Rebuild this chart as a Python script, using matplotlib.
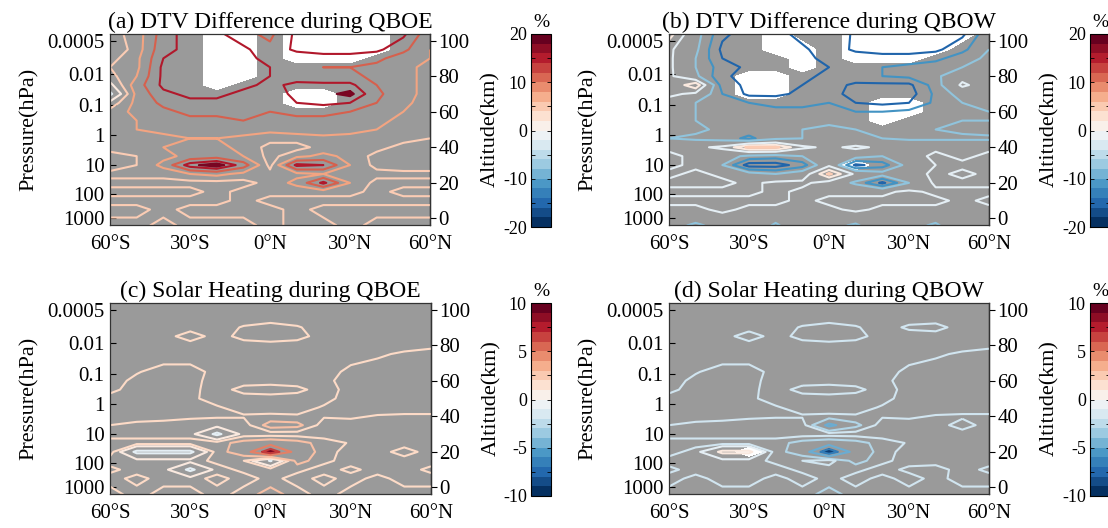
import numpy as np
import matplotlib
matplotlib.use("Agg")
import matplotlib.pyplot as plt
from matplotlib.colors import Normalize
import matplotlib.cm as cm

plt.rcParams['font.family'] = ['Liberation Serif', 'DejaVu Serif']
plt.rcParams['axes.unicode_minus'] = False

# grid the fields are read on (rows top -> bottom)
LAT = [-60, -50, -40, -30, -20, -10, 0, 10, 20, 30, 40, 50, 60]
ALT = [104, 95, 90, 85, 80, 75, 70, 65, 60, 55, 50, 45, 40, 35, 30, 25, 20, 15, 10, 5, -4]

LAT_TICKS = [-60, -30, 0, 30, 60]
LAT_LABELS = ['60°S', '30°S', '0°N', '30°N', '60°N']
PRESSURE_LABELS = ['1000', '100', '10', '1', '0.1', '0.01', '0.0005']
PRESSURE_ALT = [0, 14, 30, 47, 64, 81, 100]
ALT_TICKS = [0, 20, 40, 60, 80, 100]

DTV_LEVELS = [-16, -12, -8, -2, 2, 5, 8, 12, 16, 19]
SOLAR_LEVELS = [-7, -5, -3, -2, -1, 1, 2, 3, 5, 7]

# (a) DTV difference, QBOE (%)
DTV_QBOE = [
    [4, 6, 14, 18, 17, 13, 11, 17, 18, 18, 17, 17, 9],
    [3, 6, 15, 17, 18, 17, 13, 17, 18, 18, 17, 13, 8],
    [4, 7, 16, 17, 18, 17, 15, 13, 14, 14, 13, 10, 8],
    [5, 7, 17, 18, 18, 18, 16, 13, 12, 12, 11, 9, 7],
    [4, 8, 17, 18, 18, 17, 16, 14, 13, 13, 11, 9, 7],
    [1, 10, 17, 18, 18, 17, 15, 17, 17, 17, 12, 9, 7],
    [-3, 9, 15, 17, 17, 15, 14, 17, 18, 20, 13, 9, 7],
    [3, 9, 13, 15, 15, 14, 13, 16, 17, 16, 12, 9, 6],
    [6, 9, 11, 13, 13, 13, 12, 13, 13, 12, 11, 8, 6],
    [7, 8, 10, 11, 11, 12, 11, 11, 11, 10, 9, 7, 6],
    [7, 8, 9, 9, 10, 10, 9, 10, 10, 9, 8, 7, 6],
    [6, 7, 7, 8, 8, 7, 6, 6, 7, 7, 7, 6, 5],
    [6, 7, 8, 9, 9, 7, 4, 4, 6, 6, 6, 4, 4],
    [4, 5, 7, 9, 10, 8, 4, 7, 9, 7, 4, 4, 3],
    [3, 5, 9, 18, 21, 14, 4, 17, 16, 8, 4, 3, 3],
    [6, 6, 6, 8, 9, 7, 6, 7, 8, 6, 6, 6, 6],
    [4, 4, 4, 4, 4, 4, 6, 9, 17, 8, 4, 4, 4],
    [6, 6, 6, 6, 4, 6, 6, 6, 6, 6, 4, 6, 6],
    [4, 4, 4, 4, 4, 6, 4, 4, 4, 4, 4, 4, 4],
    [6, 6, 4, 6, 6, 6, 6, 4, 6, 6, 6, 6, 6],
    [4, 4, 6, 4, 4, 4, 6, 4, 4, 6, 4, 4, 4],
]

# (b) DTV difference, QBOW (%)
DTV_QBOW = [
    [4, -6, -15, -18, -18, -14, -12, -17, -18, -18, -18, -17, -9],
    [-1, -7, -17, -18, -18, -17, -13, -17, -18, -18, -17, -13, -8],
    [-1, -8, -16, -17, -18, -17, -15, -13, -14, -14, -13, -10, -7],
    [-1, -8, -14, -17, -17, -18, -16, -13, -12, -11, -10, -8, -5],
    [-1, -7, -15, -18, -18, -17, -15, -13, -12, -11, -9, -4, -5],
    [-2, 5, -14, -17, -18, -16, -14, -17, -17, -17, -10, -1, -5],
    [-1, -3, -12, -17, -17, -15, -14, -18, -18, -18, -11, -6, -6],
    [-4, -8, -10, -12, -13, -13, -12, -16, -17, -16, -11, -8, -7],
    [-7, -8, -9, -10, -11, -11, -10, -12, -12, -11, -10, -9, -8],
    [-7, -8, -9, -9, -10, -10, -9, -10, -10, -9, -9, -8, -8],
    [-6, -7, -9, -10, -9, -8, -7, -8, -8, -8, -8, -7, -6],
    [-8, -9, -10, -13, -9, -8, -6, -7, -8, -9, -9, -9, -9],
    [-3, -3, -1, 6, 6, -1, -3, -1, -3, -3, -3, -3, -3],
    [-1, -3, -6, -9, -10, -8, -3, -6, -8, -4, -1, -3, -1],
    [-1, -3, -8, -18, -18, -14, -3, -17, -14, -6, -2, -1, -1],
    [-3, -1, -3, -6, -8, -5, 6, -3, -6, -4, -1, -3, -1],
    [-1, -1, -1, -3, -1, -1, -4, -9, -17, -8, -1, -1, -1],
    [-3, -3, -3, -3, -1, -3, -3, -3, -3, -1, -3, -3, -3],
    [-1, -1, -1, -1, -1, -3, -1, -1, -1, -1, -1, -3, -1],
    [-3, -3, -1, -3, -3, -3, -3, -1, -3, -3, -3, -3, -3],
    [-6, -9, -6, -3, -9, -3, -6, -9, -3, -6, -9, -3, -6],
]

# (c) solar heating, QBOE (%)
SOLAR_QBOE = [
    [1.5, 1.5, 1.5, 1.5, 1.5, 1.5, 1.5, 1.5, 1.5, 1.5, 1.5, 1.5, 1.5],
    [1.5, 1.5, 1.5, 1.5, 1.5, 1.5, 1.5, 1.5, 1.5, 1.5, 1.5, 1.5, 1.5],
    [1.5, 1.5, 1.5, 1.5, 1.5, 2.1, 2.5, 2.1, 1.5, 1.5, 1.5, 1.5, 1.5],
    [1.5, 1.5, 1.5, 2.6, 1.5, 2.4, 2.8, 2.4, 1.5, 1.5, 1.5, 1.5, 1.5],
    [1.5, 1.5, 1.5, 1.5, 1.5, 1.5, 1.5, 1.5, 1.5, 1.5, 1.5, 1.5, 1.8],
    [1.5, 1.5, 1.5, 1.5, 1.5, 1.5, 1.5, 1.5, 1.5, 1.5, 1.8, 2.2, 2.3],
    [1.5, 1.5, 1.9, 1.9, 1.5, 1.5, 1.5, 1.5, 1.5, 1.9, 2.2, 2.3, 2.4],
    [1.5, 1.9, 2.5, 2.5, 1.6, 1.5, 1.5, 1.5, 1.5, 2.3, 2.6, 2.6, 2.6],
    [1.5, 2.3, 2.6, 2.4, 1.5, 1.5, 1.5, 1.5, 1.7, 2.5, 2.6, 2.6, 2.6],
    [1.7, 2.5, 2.6, 2.3, 1.5, 2.4, 2.6, 2.3, 1.5, 2.4, 2.6, 2.6, 2.6],
    [2.4, 2.6, 2.6, 2.2, 1.6, 1.5, 1.5, 1.5, 1.7, 2.4, 2.6, 2.6, 2.6],
    [2.5, 2.6, 2.5, 2.4, 2.1, 1.6, 1.5, 1.6, 2.1, 2.4, 2.6, 2.6, 2.6],
    [2.4, 2.5, 2.4, 2.2, 2.1, 2.1, 2.2, 2.1, 2.1, 2.2, 1.9, 1.8, 1.8],
    [2.0, 1.7, 1.6, 1.5, 1.5, 1.5, 3.6, 3.4, 1.5, 1.5, 1.5, 1.5, 1.5],
    [1.5, 1.5, 1.5, 1.5, -1.5, 1.5, 1.5, 1.5, 1.5, 1.5, 1.5, 1.5, 1.5],
    [2.5, 2.5, 2.5, 2.5, 2.5, 3.5, 4.0, 3.5, 2.5, 1.9, 1.5, 1.5, 1.5],
    [2.5, -1.5, -1.5, -1.5, 2.5, 3.8, 8.5, 4.0, 2.5, 1.5, 1.5, 2.5, 1.5],
    [1.5, 1.5, 1.5, 1.5, 2.3, 2.0, -1.2, 3.5, 2.3, 1.5, 1.5, 1.5, 1.5],
    [2.3, 1.5, 1.5, -1.5, 1.5, 2.3, 2.5, 2.3, 1.5, 2.3, 1.5, 1.5, 2.3],
    [1.5, 2.4, 1.5, 1.5, 2.4, 1.5, 2.4, 1.5, 2.4, 1.5, 2.4, 1.5, 1.5],
    [2.5, 1.5, 2.5, 2.5, 1.5, 2.5, 3.5, 2.5, 1.5, 2.5, 2.5, 2.5, 2.5],
]

# (d) solar heating, QBOW (%)
SOLAR_QBOW = [
    [-1.5, -1.5, -1.5, -1.5, -1.5, -1.5, -1.5, -1.5, -1.5, -1.5, -1.5, -1.5, -1.5],
    [-1.5, -1.5, -1.5, -1.5, -1.5, -1.5, -1.5, -1.5, -1.5, -1.5, -1.5, -1.5, -1.5],
    [-1.5, -1.5, -1.5, -1.5, -1.5, -2.1, -2.5, -2.1, -1.5, -2.2, -2.4, -1.5, -1.5],
    [-1.5, -1.5, -1.5, -2.6, -1.5, -2.4, -2.8, -2.4, -1.5, -1.5, -1.5, -1.5, -1.5],
    [-1.5, -1.5, -1.5, -1.5, -1.5, -1.5, -1.5, -1.5, -1.5, -1.5, -1.5, -1.5, -1.8],
    [-1.5, -1.5, -1.5, -1.5, -1.5, -1.5, -1.5, -1.5, -1.5, -1.5, -1.8, -2.2, -2.3],
    [-1.5, -1.5, -1.9, -1.9, -1.5, -1.5, -1.5, -1.5, -1.5, -1.9, -2.2, -2.3, -2.4],
    [-1.5, -1.9, -2.5, -2.5, -1.6, -1.5, -1.5, -1.5, -1.5, -2.3, -2.6, -2.6, -2.6],
    [-1.5, -2.3, -2.6, -2.4, -1.5, -1.5, -1.5, -1.5, -1.7, -2.5, -2.6, -2.6, -2.6],
    [-1.7, -2.5, -2.6, -2.3, -1.5, -2.4, -2.6, -2.3, -1.5, -2.4, -2.6, -2.6, -2.6],
    [-2.4, -2.6, -2.6, -2.2, -1.6, -1.5, -1.5, -1.5, -1.7, -2.4, -2.6, -2.6, -2.6],
    [-2.5, -2.6, -2.5, -2.4, -2.1, -1.6, -1.5, -1.6, -2.1, -2.4, -2.6, -2.6, -2.6],
    [-2.4, -2.5, -2.4, -2.2, -2.1, -2.1, -2.2, -2.1, -2.1, -2.2, -1.9, -1.8, -1.8],
    [-2.0, -1.7, -1.6, -1.5, -1.5, -1.5, -5.6, -3.4, -1.5, -1.5, -1.5, -2.5, -1.5],
    [-1.5, -1.5, -1.5, -1.5, -1.5, -1.5, -1.5, -1.5, -1.5, -1.5, -1.5, -1.5, -1.5],
    [-2.5, -2.5, -2.5, -2.5, -2.5, -3.5, -4.0, -3.5, -2.5, -1.9, -1.5, -1.5, -1.5],
    [-2.5, -1.5, 1.5, 1.5, -2.5, -3.8, -8.5, -4.0, -2.5, -1.5, -1.5, -1.5, -1.5],
    [-1.5, -1.5, -1.5, -1.5, -2.3, -2.0, -1.5, -3.5, -2.3, -1.5, -1.5, -1.5, -1.5],
    [-2.3, -1.5, -1.5, -1.5, -1.5, -2.3, -2.5, -2.3, -1.5, -2.3, -2.5, -1.5, -2.3],
    [-1.5, -2.4, -1.5, -1.5, -2.4, -1.5, -2.4, -1.5, -2.4, -1.5, -2.4, -1.5, -1.5],
    [-2.5, -2.5, -2.5, -2.5, -2.5, -2.5, -3.5, -2.5, -2.5, -2.5, -2.5, -2.5, -2.5],
]

# white (blank) areas, 1 = white, same grid as the fields
MASK_QBOE = [
    "0000110111100", "0000110111100", "0000110111000", "0000110000000",
    "0000110000000", "0000100000000", "0000000110000", "0000000110000",
    "0000000000000", "0000000000000", "0000000000000", "0000000000000",
    "0000000000000", "0000000000000", "0000000000000", "0000000000000",
    "0000000000000", "0000000000000", "0000000000000", "0000000000000",
    "0000000000000",
]
MASK_QBOW = [
    "0000100111110", "0000110111100", "0000010111000", "0000010000000",
    "0001100000000", "0001100000000", "0001100000000", "0000000011000",
    "0000000011000", "0000000010000", "0000000000000", "0000000000000",
    "0000000000000", "0000000000000", "0000000100000", "0000000000000",
    "0000000000000", "0000000000000", "0000000000000", "0000000000000",
    "0000000000000",
]
MASK_SOLAR_QBOW = [
    "0000000000000", "0000000000000", "0000000000000", "0000000000000",
    "0000000000000", "0000000000000", "0000000000000", "0000000000000",
    "0000000000000", "0000000000000", "0000000000000", "0000000000000",
    "0000000000000", "0000000000000", "0000000000000", "0000000000000",
    "0001000000000", "0000000000000", "0000000000000", "0000000000000",
    "0000000000000",
]

W, H = 1108, 528
fig = plt.figure(figsize=(W / 100, H / 100), dpi=100)


def px_rect(x0, y0, x1, y1):
    return [x0 / W, 1 - y1 / H, (x1 - x0) / W, (y1 - y0) / H]


cmap = plt.get_cmap('RdBu_r')


def draw_panel(box, cbox, field, mask, levels, vmax, fill, title):
    ax = fig.add_axes(px_rect(*box))
    ax.set_facecolor('#9a9a9a')
    z = np.array(field, dtype=float)
    norm = Normalize(-vmax, vmax)

    if mask is not None:
        m = np.array([[int(c) for c in row] for row in mask], dtype=float)
        ax.contourf(LAT, ALT, m, levels=[0.5, 1.5], colors='white')

    # strongest values shown as filled spots
    ax.contourf(LAT, ALT, z, levels=[-1000, -fill, fill, 1000],
                colors=[cmap(0.03), 'none', cmap(0.97)])
    ax.contour(LAT, ALT, z, levels=levels,
               colors=[cmap(norm(lv)) for lv in levels], linewidths=1.5)

    ax.set_xlim(-60, 60)
    ax.set_ylim(-3.7, 103.7)
    ax.set_xticks(LAT_TICKS, LAT_LABELS)
    ax.set_yticks(PRESSURE_ALT, PRESSURE_LABELS)
    ax.tick_params(axis='x', length=0, pad=7, labelsize=15)
    ax.tick_params(axis='y', direction='in', length=4, pad=4, labelsize=15)
    ax.set_ylabel('Pressure(hPa)', fontsize=16, labelpad=6)
    ax.set_title(title, fontsize=17, pad=4)
    for s in ax.spines.values():
        s.set_linewidth(0.9)
        s.set_color('#333333')

    sec = ax.secondary_yaxis('right')
    sec.set_yticks(ALT_TICKS)
    sec.tick_params(direction='out', length=4, pad=2, labelsize=15)
    sec.set_ylabel('Altitude(km)', fontsize=16, labelpad=8)
    sec.spines['right'].set_linewidth(0.9)

    cax = fig.add_axes(px_rect(*cbox))
    sm = cm.ScalarMappable(norm=norm, cmap=plt.get_cmap('RdBu_r', 20))
    cb = fig.colorbar(sm, cax=cax)
    major = [-vmax, -vmax / 2, 0, vmax / 2, vmax]
    cb.set_ticks(major, labels=[f"{int(t)}" for t in major])
    cax.set_yticks([-3 * vmax / 4, -vmax / 4, vmax / 4, 3 * vmax / 4], minor=True)
    cax.tick_params(which='both', left=True, right=True, labelleft=True,
                    labelright=False, direction='in', length=3, width=0.6,
                    labelsize=13, pad=3)
    cb.outline.set_linewidth(0.8)
    cax.set_title('%', fontsize=14, pad=5)


draw_panel((110, 34, 430, 225), (531, 34, 551, 227), DTV_QBOE, MASK_QBOE,
           DTV_LEVELS, 20, 19, '(a) DTV Difference during QBOE')
draw_panel((669, 34, 989, 225), (1090, 34, 1110, 227), DTV_QBOW, MASK_QBOW,
           DTV_LEVELS, 20, 19, '(b) DTV Difference during QBOW')
draw_panel((110, 303, 431, 494), (531, 303, 551, 496), SOLAR_QBOE, None,
           SOLAR_LEVELS, 10, 7, '(c) Solar Heating during QBOE')
draw_panel((669, 303, 989, 494), (1090, 303, 1110, 496), SOLAR_QBOW, MASK_SOLAR_QBOW,
           SOLAR_LEVELS, 10, 7, '(d) Solar Heating during QBOW')

fig.savefig('out.png', dpi=100)
